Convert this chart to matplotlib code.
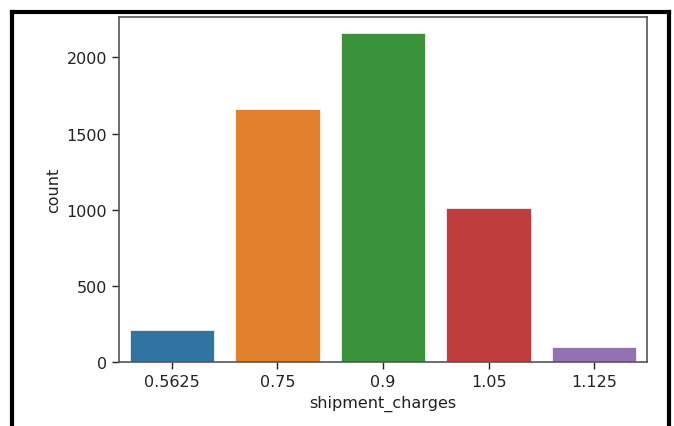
import matplotlib
matplotlib.use('Agg')
import matplotlib.pyplot as plt
from matplotlib.lines import Line2D

# counts per shipment charge level
charges = ['0.5625', '0.75', '0.9', '1.05', '1.125']
counts = [210, 1658, 2158, 1012, 99]
colors = ['#3274a1', '#e1812c', '#3a923a', '#c03d3e', '#9372b2']

fig = plt.figure(figsize=(6.74, 4.27), dpi=100)
ax = fig.add_axes([0.1766, 0.150, 0.7834, 0.808])

x = range(len(charges))
ax.bar(x, counts, width=0.8, color=colors, edgecolor='white', linewidth=0.5)
ax.set_xticks(list(x))
ax.set_xticklabels(charges)
ax.set_xlim(-0.5, len(charges) - 0.5)
ax.set_ylim(0, max(counts) * 1.05)
ax.set_yticks([0, 500, 1000, 1500, 2000])

ax.set_xlabel('shipment_charges', fontsize=11.5, color='#222222')
ax.set_ylabel('count', fontsize=11.5, color='#222222')
ax.tick_params(labelsize=11.5, colors='#222222', length=5, width=1)
for sp in ax.spines.values():
    sp.set_color('#555555')
    sp.set_linewidth(1.2)

# black screenshot frame (top, left, right)
fw = 3.0
fig.add_artist(Line2D([0.0178, 0.9926], [0.9707, 0.9707], color='black', lw=fw, transform=fig.transFigure))
fig.add_artist(Line2D([0.0178, 0.0178], [0.0, 0.9707], color='black', lw=fw, transform=fig.transFigure))
fig.add_artist(Line2D([0.9926, 0.9926], [0.0, 0.9707], color='black', lw=fw, transform=fig.transFigure))

fig.savefig('out.png', dpi=100)
